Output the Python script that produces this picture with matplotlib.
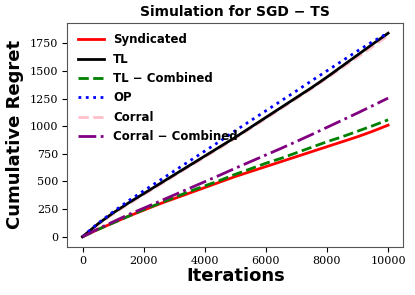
import matplotlib
matplotlib.use("Agg")
import matplotlib.pyplot as plt
import numpy as np

iters = list(range(0, 10001, 500))
syndicated = [0, 65, 125, 185, 240, 295, 345, 395, 445, 495, 545, 590, 635, 680, 725, 770, 815, 860, 905, 955, 1010]
tl = [0, 115, 215, 305, 390, 475, 560, 645, 730, 815, 900, 990, 1080, 1170, 1260, 1350, 1445, 1545, 1645, 1745, 1842]
tl_combined = [0, 65, 125, 185, 245, 300, 355, 410, 460, 510, 565, 615, 665, 710, 760, 810, 860, 905, 955, 1005, 1058]
op = [0, 120, 225, 325, 415, 505, 595, 685, 775, 865, 960, 1050, 1140, 1230, 1320, 1412, 1502, 1592, 1682, 1767, 1845]
corral = [0, 108, 205, 295, 380, 465, 550, 635, 720, 805, 890, 980, 1070, 1160, 1250, 1340, 1435, 1530, 1625, 1722, 1822]
corral_combined = [0, 70, 135, 200, 258, 318, 378, 438, 498, 558, 620, 680, 740, 800, 862, 925, 990, 1055, 1120, 1187, 1255]

fig = plt.figure(figsize=(4.15, 2.95), dpi=100)
ax = fig.add_axes([0.162, 0.163, 0.81, 0.76])
lw = 2
ax.plot(iters, syndicated, color='red', lw=lw, label='Syndicated')
ax.plot(iters, tl, color='black', lw=lw, label='TL')
ax.plot(iters, tl_combined, color='green', ls='--', lw=lw, label='TL \u2212 Combined')
ax.plot(iters, op, color='blue', ls=':', lw=lw, label='OP')
ax.plot(iters, corral, color='pink', ls='--', lw=lw, label='Corral')
ax.plot(iters, corral_combined, color='purple', ls='-.', lw=lw, label='Corral \u2212 Combined')
ax.lines[4].set_zorder(1.5)

ax.set_xticks([0, 2000, 4000, 6000, 8000, 10000])
ax.set_yticks([0, 250, 500, 750, 1000, 1250, 1500, 1750])
for t in ax.get_xticklabels() + ax.get_yticklabels():
    t.set_fontfamily('DejaVu Serif')
    t.set_fontsize(8)
ax.tick_params(length=3.5, pad=3)
ax.set_xlabel('Iterations', fontsize=13, fontweight='bold', labelpad=1)
ax.set_ylabel('Cumulative Regret', fontsize=13, fontweight='bold', labelpad=4)
ax.set_title('Simulation for SGD \u2212 TS', fontsize=10, fontweight='bold', pad=5)
ax.legend(loc='upper left', frameon=False, prop={'weight': 'bold', 'size': 8.5},
          labelspacing=0.54, borderaxespad=0.5, handlelength=2.2, handletextpad=0.8)
for s in ax.spines.values():
    s.set_color('#555555')
fig.savefig('out.png', dpi=100)
